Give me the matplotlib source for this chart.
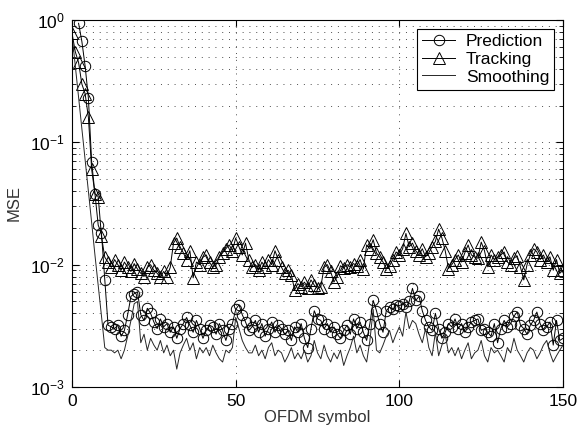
import numpy as np
import matplotlib
matplotlib.use('Agg')
import matplotlib.pyplot as plt
from matplotlib.ticker import LogLocator, NullFormatter

plt.rcParams['font.family'] = ['Liberation Sans', 'DejaVu Sans']

# MSE per OFDM symbol
tracking_x = np.arange(0, 151)
tracking = [
    0.78, 0.55, 0.45, 0.30, 0.25, 0.16, 0.060, 0.038, 0.036, 0.017,
    0.0115, 0.0105, 0.0095, 0.0110, 0.0100, 0.0090, 0.0105, 0.0095, 0.0088, 0.0102,
    0.0092, 0.0085, 0.0080, 0.0095, 0.0100, 0.0090, 0.0085, 0.0079, 0.0088, 0.0080,
    0.0095, 0.0150, 0.0165, 0.0140, 0.0125, 0.0110, 0.0130, 0.0078, 0.0105, 0.0100,
    0.0115, 0.0120, 0.0105, 0.0095, 0.0100, 0.0115, 0.0125, 0.0135, 0.0145, 0.0130,
    0.0165, 0.0140, 0.0120, 0.0150, 0.0110, 0.0095, 0.0100, 0.0090, 0.0105, 0.0095,
    0.0110, 0.0100, 0.0130, 0.0110, 0.0095, 0.0085, 0.0090, 0.0083, 0.0062, 0.0070,
    0.0066, 0.0072, 0.0065, 0.0075, 0.0068, 0.0064, 0.0066, 0.0095, 0.0100, 0.0088,
    0.0072, 0.0080, 0.0098, 0.0094, 0.0100, 0.0096, 0.0102, 0.0098, 0.0110, 0.0092,
    0.0145, 0.0135, 0.0160, 0.0125, 0.0115, 0.0105, 0.0093, 0.0098, 0.0110, 0.0127,
    0.0120, 0.0135, 0.0180, 0.0140, 0.0150, 0.0130, 0.0120, 0.0135, 0.0116, 0.0125,
    0.0140, 0.0155, 0.0195, 0.0165, 0.0130, 0.0093, 0.0100, 0.0110, 0.0120, 0.0105,
    0.0125, 0.0145, 0.0120, 0.0115, 0.0113, 0.0153, 0.0130, 0.0096, 0.0120, 0.0110,
    0.0115, 0.0120, 0.0127, 0.0105, 0.0100, 0.0113, 0.0118, 0.0095, 0.0075, 0.0100,
    0.0120, 0.0135, 0.0127, 0.0110, 0.0120, 0.0105, 0.0116, 0.0090, 0.0110, 0.0085,
    0.0090,
]

prediction_x = np.arange(2, 151)
prediction = [
    0.94, 0.67, 0.42, 0.23, 0.069, 0.038, 0.021, 0.018,
    0.0075, 0.0032, 0.0031, 0.0030, 0.0032, 0.0026, 0.0029, 0.0039, 0.0055, 0.0058,
    0.0060, 0.0039, 0.0035, 0.0044, 0.0040, 0.0034, 0.0030, 0.0036, 0.0031, 0.0033,
    0.0028, 0.0031, 0.0025, 0.0030, 0.0033, 0.0037, 0.0032, 0.0028, 0.0035, 0.0030,
    0.0025, 0.0029, 0.0032, 0.0031, 0.0027, 0.0033, 0.0029, 0.0024, 0.0030, 0.0033,
    0.0043, 0.0047, 0.0039, 0.0034, 0.0029, 0.0031, 0.0035, 0.0028, 0.0033, 0.0026,
    0.0030, 0.0034, 0.0028, 0.0032, 0.0030, 0.0027, 0.0029, 0.0024, 0.0031, 0.0028,
    0.0033, 0.0025, 0.0021, 0.0030, 0.0042, 0.0036, 0.0035, 0.0030, 0.0033, 0.0028,
    0.0031, 0.0027, 0.0025, 0.0029, 0.0032, 0.0027, 0.0036, 0.0030, 0.0034, 0.0028,
    0.0024, 0.0033, 0.0051, 0.0042, 0.0033, 0.0028, 0.0042, 0.0045, 0.0043, 0.0047,
    0.0046, 0.0048, 0.0045, 0.0050, 0.0064, 0.0051, 0.0055, 0.0042, 0.0035, 0.0031,
    0.0029, 0.0040, 0.0030, 0.0025, 0.0028, 0.0033, 0.0031, 0.0036, 0.0030, 0.0033,
    0.0028, 0.0031, 0.0034, 0.0035, 0.0036, 0.0029, 0.0030, 0.0028, 0.0026, 0.0033,
    0.0023, 0.0030, 0.0035, 0.0031, 0.0033, 0.0038, 0.0041, 0.0032, 0.0030, 0.0027,
    0.0032, 0.0035, 0.0041, 0.0033, 0.0029, 0.0031, 0.0034, 0.0022, 0.0035, 0.0024,
    0.0025,
]

smoothing_x = np.arange(0, 151)
smoothing = [
    0.76, 0.42, 0.23, 0.13, 0.072, 0.040, 0.022, 0.012, 0.0068, 0.0038,
    0.0021, 0.0020, 0.0020, 0.0019, 0.0020, 0.0017, 0.0020, 0.0026, 0.0035, 0.0048,
    0.0050, 0.0023, 0.0027, 0.0020, 0.0025, 0.0022, 0.0020, 0.0024, 0.0019, 0.0022,
    0.0018, 0.0020, 0.0014, 0.0019, 0.0022, 0.0025, 0.0020, 0.0023, 0.0017, 0.0021,
    0.0019, 0.0021, 0.0018, 0.0022, 0.0019, 0.0017, 0.0016, 0.0020, 0.0019, 0.0021,
    0.0037, 0.0030, 0.0024, 0.0021, 0.0019, 0.0019, 0.0022, 0.0018, 0.0020, 0.0017,
    0.0021, 0.0023, 0.0018, 0.0020, 0.0019, 0.0016, 0.0018, 0.0021, 0.0017, 0.0019,
    0.0017, 0.0020, 0.0016, 0.0018, 0.0024, 0.0019, 0.0017, 0.0022, 0.0018, 0.0016,
    0.0019, 0.0017, 0.0020, 0.0015, 0.0018, 0.0021, 0.0026, 0.0019, 0.0022, 0.0018,
    0.0016, 0.0024, 0.0043, 0.0020, 0.0019, 0.0022, 0.0026, 0.0029, 0.0023, 0.0027,
    0.0031, 0.0026, 0.0041, 0.0030, 0.0035, 0.0033, 0.0027, 0.0023, 0.0030, 0.0021,
    0.0018, 0.0028, 0.0018, 0.0022, 0.0027, 0.0019, 0.0021, 0.0018, 0.0021, 0.0017,
    0.0020, 0.0023, 0.0017, 0.0019, 0.0020, 0.0024, 0.0018, 0.0016, 0.0021, 0.0019,
    0.0020, 0.0018, 0.0016, 0.0021, 0.0019, 0.0025, 0.0020, 0.0018, 0.0016, 0.0019,
    0.0021, 0.0020, 0.0017, 0.0019, 0.0022, 0.0024, 0.0019, 0.0016, 0.0018, 0.0020,
    0.0022,
]

fig = plt.figure(figsize=(5.87, 4.32), dpi=100)
ax = fig.add_axes([0.1227, 0.1042, 0.8365, 0.8495])

ax.semilogy(prediction_x, prediction, color='black', lw=0.7, marker='o',
            markersize=7.5, markerfacecolor='none', markeredgewidth=0.7,
            label='Prediction')
ax.semilogy(tracking_x, tracking, color='black', lw=0.7, marker='^',
            markersize=8, markerfacecolor='none', markeredgewidth=0.7,
            label='Tracking')
ax.semilogy(smoothing_x, smoothing, color='0.15', lw=0.7, label='Smoothing')

ax.set_xlim(0, 150)
ax.set_ylim(1e-3, 1e0)
ax.set_xticks([0, 50, 100, 150])
ax.yaxis.set_major_locator(LogLocator(base=10, numticks=10))
ax.yaxis.set_minor_locator(LogLocator(base=10, subs=np.arange(2, 10), numticks=10))
ax.yaxis.set_minor_formatter(NullFormatter())

ax.grid(True, which='major', linestyle=(0, (1, 6)), color='0.3', lw=0.7)
ax.grid(True, which='minor', axis='y', linestyle=(0, (1, 6)), color='0.3', lw=0.7)
ax.tick_params(which='both', direction='in', top=True, right=True,
               labelsize=12.5, colors='black', pad=5)
ax.tick_params(which='major', length=5)
ax.tick_params(which='minor', length=3)
for s in ax.spines.values():
    s.set_linewidth(0.8)

ax.set_xlabel('OFDM symbol', fontsize=12, color='0.2', labelpad=1)
ax.set_ylabel('MSE', fontsize=12, color='0.2', labelpad=6)

leg = ax.legend(loc='upper right', fontsize=12.5, fancybox=False,
                edgecolor='black', framealpha=1, handlelength=1.9,
                borderaxespad=0.5, labelspacing=0.15, handletextpad=0.6,
                borderpad=0.3)
leg.get_frame().set_linewidth(0.8)

plt.savefig('out.png', dpi=100)
plt.close()
